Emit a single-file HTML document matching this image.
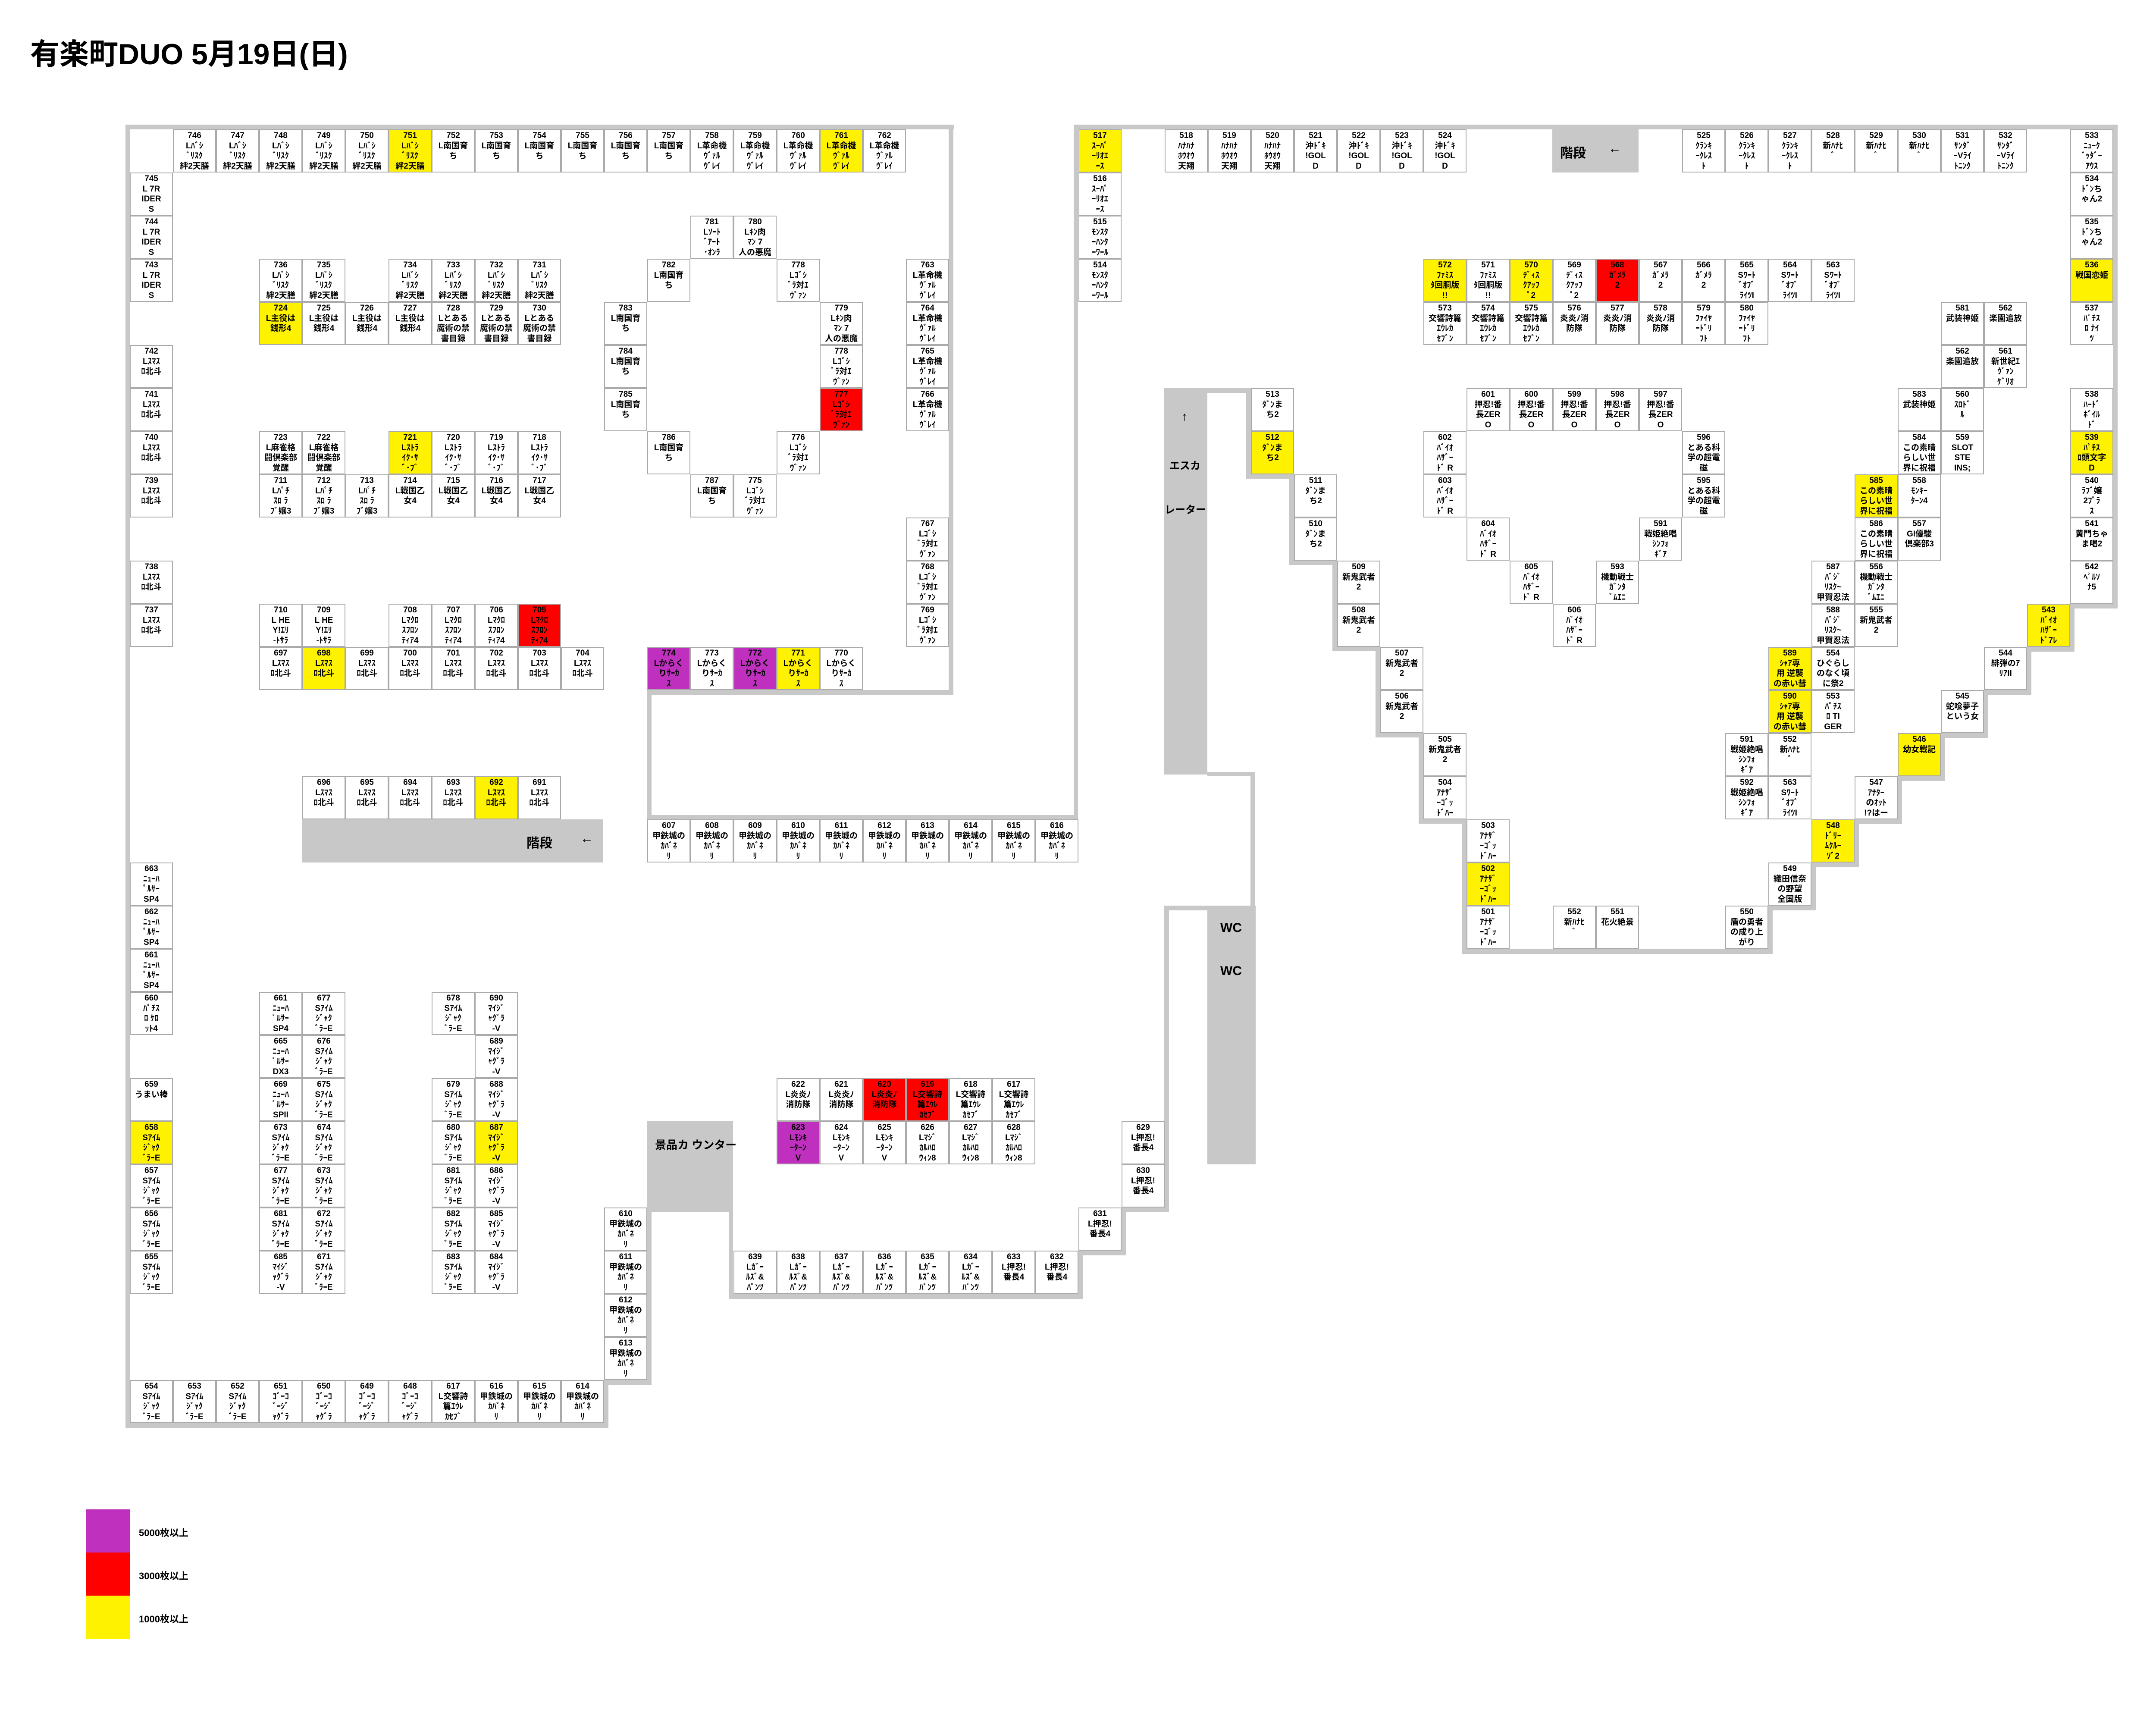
<!DOCTYPE html>
<html><head><meta charset="utf-8">
<style>
html,body{margin:0;padding:0;background:#fff;}
#m{position:relative;width:5300px;height:4000px;overflow:hidden;background:#fff;}
.c{position:absolute;width:100px;height:100px;box-sizing:border-box;border:2px solid #aaa;background:#fff;
font:bold 19px/23.5px "Liberation Sans","Noto Sans CJK JP",sans-serif;text-align:center;padding-top:1px;overflow:hidden;color:#000;white-space:nowrap;}
.y{background:#fff200;}
.r{background:#ff0000;}
.p{background:#bf30bf;}
.w{position:absolute;background:#c8c8c8;}
.g{position:absolute;background:#c8c8c8;font:bold 30px "Liberation Sans","Noto Sans CJK JP",sans-serif;color:#000;white-space:nowrap;}
.t{position:absolute;font:bold 22px "Liberation Sans","Noto Sans CJK JP",sans-serif;color:#000;}
</style></head><body><div id="m">
<div style="position:absolute;left:70px;top:70px;font:bold 68px 'Liberation Sans','Noto Sans CJK JP',sans-serif;white-space:nowrap;">有楽町DUO 5月19日(日)</div>

<!-- walls -->
<b class="w" style="left:291px;top:289px;width:1921px;height:11px"></b>
<b class="w" style="left:291px;top:289px;width:10px;height:3023px"></b>
<b class="w" style="left:2200px;top:289px;width:11px;height:1323px"></b>
<b class="w" style="left:1500px;top:1600px;width:711px;height:11px"></b>
<b class="w" style="left:1500px;top:1600px;width:11px;height:300px"></b>
<b class="w" style="left:1500px;top:1890px;width:1000px;height:10px"></b>
<b class="w" style="left:2490px;top:289px;width:10px;height:1611px"></b>
<b class="w" style="left:2490px;top:289px;width:2421px;height:11px"></b>
<b class="w" style="left:4900px;top:289px;width:11px;height:1122px"></b>
<b class="w" style="left:301px;top:3300px;width:1110px;height:12px"></b>
<b class="w" style="left:1400px;top:3200px;width:11px;height:112px"></b>
<b class="w" style="left:1400px;top:3200px;width:111px;height:11px"></b>
<b class="w" style="left:1500px;top:2811px;width:11px;height:400px"></b>
<b class="w" style="left:1690px;top:2811px;width:10px;height:201px"></b>
<b class="w" style="left:1690px;top:3000px;width:821px;height:12px"></b>
<b class="w" style="left:2500px;top:2900px;width:11px;height:112px"></b>
<b class="w" style="left:2500px;top:2900px;width:111px;height:11px"></b>
<b class="w" style="left:2600px;top:2800px;width:11px;height:111px"></b>
<b class="w" style="left:2600px;top:2800px;width:111px;height:11px"></b>
<b class="w" style="left:2700px;top:2100px;width:11px;height:711px"></b>
<b class="w" style="left:2700px;top:2100px;width:100px;height:11px"></b>
<b class="w" style="left:2800px;top:1790px;width:111px;height:10px"></b>
<b class="w" style="left:2900px;top:1790px;width:11px;height:320px"></b>
<b class="w" style="left:2700px;top:900px;width:200px;height:11px"></b>
<b class="w" style="left:2890px;top:900px;width:11px;height:210px"></b>
<b class="w" style="left:2890px;top:1100px;width:111px;height:10px"></b>
<b class="w" style="left:2990px;top:1100px;width:11px;height:210px"></b>
<b class="w" style="left:2990px;top:1300px;width:111px;height:10px"></b>
<b class="w" style="left:3090px;top:1300px;width:11px;height:210px"></b>
<b class="w" style="left:3090px;top:1500px;width:111px;height:10px"></b>
<b class="w" style="left:3190px;top:1500px;width:11px;height:210px"></b>
<b class="w" style="left:3190px;top:1700px;width:111px;height:10px"></b>
<b class="w" style="left:3290px;top:1700px;width:11px;height:210px"></b>
<b class="w" style="left:3290px;top:1900px;width:111px;height:10px"></b>
<b class="w" style="left:3390px;top:1900px;width:11px;height:312px"></b>
<b class="w" style="left:3390px;top:2200px;width:721px;height:12px"></b>
<b class="w" style="left:4100px;top:2100px;width:11px;height:112px"></b>
<b class="w" style="left:4100px;top:2100px;width:111px;height:11px"></b>
<b class="w" style="left:4200px;top:2000px;width:11px;height:111px"></b>
<b class="w" style="left:4200px;top:2000px;width:111px;height:11px"></b>
<b class="w" style="left:4300px;top:1900px;width:11px;height:111px"></b>
<b class="w" style="left:4300px;top:1900px;width:111px;height:11px"></b>
<b class="w" style="left:4400px;top:1800px;width:11px;height:111px"></b>
<b class="w" style="left:4400px;top:1800px;width:111px;height:11px"></b>
<b class="w" style="left:4500px;top:1700px;width:11px;height:111px"></b>
<b class="w" style="left:4500px;top:1700px;width:111px;height:11px"></b>
<b class="w" style="left:4600px;top:1600px;width:11px;height:111px"></b>
<b class="w" style="left:4600px;top:1600px;width:111px;height:11px"></b>
<b class="w" style="left:4700px;top:1500px;width:11px;height:111px"></b>
<b class="w" style="left:4700px;top:1500px;width:111px;height:11px"></b>
<b class="w" style="left:4800px;top:1400px;width:11px;height:111px"></b>
<b class="w" style="left:4800px;top:1400px;width:111px;height:11px"></b>

<!-- grey blocks -->
<div class="g" style="left:701px;top:1900px;width:698px;height:100px"><span style="position:absolute;left:520px;top:30px">階段</span><span style="position:absolute;left:645px;top:28px">←</span></div>
<div class="g" style="left:3600px;top:300px;width:200px;height:100px"><span style="position:absolute;left:18px;top:30px">階段</span><span style="position:absolute;left:130px;top:28px">←</span></div>
<div class="g" style="left:2700px;top:900px;width:100px;height:896px;font-size:24px"><span style="position:absolute;left:40px;top:50px;font-size:28px">↑</span><span style="position:absolute;left:12px;top:160px">エスカ</span><span style="position:absolute;left:1px;top:262px">レーター</span></div>
<div class="g" style="left:2800px;top:2100px;width:112px;height:600px"><span style="position:absolute;left:30px;top:35px">WC</span><span style="position:absolute;left:30px;top:135px">WC</span></div>
<div class="g" style="left:1501px;top:2600px;width:199px;height:211px;font-size:26px"><span style="position:absolute;left:18px;top:35px">景品カ ウンター</span></div>

<!-- legend -->
<b class="w" style="left:200px;top:3500px;width:101px;height:100px;background:#bf30bf"></b>
<b class="w" style="left:200px;top:3600px;width:101px;height:100px;background:#ff0000"></b>
<b class="w" style="left:200px;top:3700px;width:101px;height:101px;background:#fff200"></b>
<span class="t" style="left:322px;top:3537px">5000枚以上</span>
<span class="t" style="left:322px;top:3637px">3000枚以上</span>
<span class="t" style="left:322px;top:3737px">1000枚以上</span>

<!-- left section row0 -->
<div class="c" style="left:401px;top:300px">746<br>Lﾊﾞｼ<br>ﾞﾘｽｸ<br>絆2天膳</div>
<div class="c" style="left:501px;top:300px">747<br>Lﾊﾞｼ<br>ﾞﾘｽｸ<br>絆2天膳</div>
<div class="c" style="left:601px;top:300px">748<br>Lﾊﾞｼ<br>ﾞﾘｽｸ<br>絆2天膳</div>
<div class="c" style="left:701px;top:300px">749<br>Lﾊﾞｼ<br>ﾞﾘｽｸ<br>絆2天膳</div>
<div class="c" style="left:801px;top:300px">750<br>Lﾊﾞｼ<br>ﾞﾘｽｸ<br>絆2天膳</div>
<div class="c y" style="left:901px;top:300px">751<br>Lﾊﾞｼ<br>ﾞﾘｽｸ<br>絆2天膳</div>
<div class="c" style="left:1001px;top:300px">752<br>L南国育<br>ち</div>
<div class="c" style="left:1101px;top:300px">753<br>L南国育<br>ち</div>
<div class="c" style="left:1201px;top:300px">754<br>L南国育<br>ち</div>
<div class="c" style="left:1301px;top:300px">755<br>L南国育<br>ち</div>
<div class="c" style="left:1401px;top:300px">756<br>L南国育<br>ち</div>
<div class="c" style="left:1501px;top:300px">757<br>L南国育<br>ち</div>
<div class="c" style="left:1601px;top:300px">758<br>L革命機<br>ｳﾞｧﾙ<br>ｳﾞﾚｲ</div>
<div class="c" style="left:1701px;top:300px">759<br>L革命機<br>ｳﾞｧﾙ<br>ｳﾞﾚｲ</div>
<div class="c" style="left:1801px;top:300px">760<br>L革命機<br>ｳﾞｧﾙ<br>ｳﾞﾚｲ</div>
<div class="c y" style="left:1901px;top:300px">761<br>L革命機<br>ｳﾞｧﾙ<br>ｳﾞﾚｲ</div>
<div class="c" style="left:2001px;top:300px">762<br>L革命機<br>ｳﾞｧﾙ<br>ｳﾞﾚｲ</div>

<div class="c" style="left:301px;top:400px">745<br>L 7R<br>IDER<br>S</div>
<div class="c" style="left:301px;top:500px">744<br>L 7R<br>IDER<br>S</div>
<div class="c" style="left:301px;top:600px">743<br>L 7R<br>IDER<br>S</div>
<div class="c" style="left:301px;top:800px">742<br>Lｽﾏｽ<br>ﾛ北斗</div>
<div class="c" style="left:301px;top:900px">741<br>Lｽﾏｽ<br>ﾛ北斗</div>
<div class="c" style="left:301px;top:1000px">740<br>Lｽﾏｽ<br>ﾛ北斗</div>
<div class="c" style="left:301px;top:1100px">739<br>Lｽﾏｽ<br>ﾛ北斗</div>
<div class="c" style="left:301px;top:1300px">738<br>Lｽﾏｽ<br>ﾛ北斗</div>
<div class="c" style="left:301px;top:1400px">737<br>Lｽﾏｽ<br>ﾛ北斗</div>

<div class="c" style="left:601px;top:600px">736<br>Lﾊﾞｼ<br>ﾞﾘｽｸ<br>絆2天膳</div>
<div class="c" style="left:701px;top:600px">735<br>Lﾊﾞｼ<br>ﾞﾘｽｸ<br>絆2天膳</div>
<div class="c" style="left:901px;top:600px">734<br>Lﾊﾞｼ<br>ﾞﾘｽｸ<br>絆2天膳</div>
<div class="c" style="left:1001px;top:600px">733<br>Lﾊﾞｼ<br>ﾞﾘｽｸ<br>絆2天膳</div>
<div class="c" style="left:1101px;top:600px">732<br>Lﾊﾞｼ<br>ﾞﾘｽｸ<br>絆2天膳</div>
<div class="c" style="left:1201px;top:600px">731<br>Lﾊﾞｼ<br>ﾞﾘｽｸ<br>絆2天膳</div>
<div class="c y" style="left:601px;top:700px">724<br>L主役は<br>銭形4</div>
<div class="c" style="left:701px;top:700px">725<br>L主役は<br>銭形4</div>
<div class="c" style="left:801px;top:700px">726<br>L主役は<br>銭形4</div>
<div class="c" style="left:901px;top:700px">727<br>L主役は<br>銭形4</div>
<div class="c" style="left:1001px;top:700px">728<br>Lとある<br>魔術の禁<br>書目録</div>
<div class="c" style="left:1101px;top:700px">729<br>Lとある<br>魔術の禁<br>書目録</div>
<div class="c" style="left:1201px;top:700px">730<br>Lとある<br>魔術の禁<br>書目録</div>

<div class="c" style="left:601px;top:1000px">723<br>L麻雀格<br>闘倶楽部<br>覚醒</div>
<div class="c" style="left:701px;top:1000px">722<br>L麻雀格<br>闘倶楽部<br>覚醒</div>
<div class="c y" style="left:901px;top:1000px">721<br>Lｽﾄﾗ<br>ｲｸ･ｻ<br>ﾞ･ﾌﾞ</div>
<div class="c" style="left:1001px;top:1000px">720<br>Lｽﾄﾗ<br>ｲｸ･ｻ<br>ﾞ･ﾌﾞ</div>
<div class="c" style="left:1101px;top:1000px">719<br>Lｽﾄﾗ<br>ｲｸ･ｻ<br>ﾞ･ﾌﾞ</div>
<div class="c" style="left:1201px;top:1000px">718<br>Lｽﾄﾗ<br>ｲｸ･ｻ<br>ﾞ･ﾌﾞ</div>
<div class="c" style="left:601px;top:1100px">711<br>Lﾊﾟﾁ<br>ｽﾛ ﾗ<br>ﾌﾞ嬢3</div>
<div class="c" style="left:701px;top:1100px">712<br>Lﾊﾟﾁ<br>ｽﾛ ﾗ<br>ﾌﾞ嬢3</div>
<div class="c" style="left:801px;top:1100px">713<br>Lﾊﾟﾁ<br>ｽﾛ ﾗ<br>ﾌﾞ嬢3</div>
<div class="c" style="left:901px;top:1100px">714<br>L戦国乙<br>女4</div>
<div class="c" style="left:1001px;top:1100px">715<br>L戦国乙<br>女4</div>
<div class="c" style="left:1101px;top:1100px">716<br>L戦国乙<br>女4</div>
<div class="c" style="left:1201px;top:1100px">717<br>L戦国乙<br>女4</div>

<div class="c" style="left:601px;top:1400px">710<br>L HE<br>Y!ｴﾘ<br>-ﾄｻﾗ</div>
<div class="c" style="left:701px;top:1400px">709<br>L HE<br>Y!ｴﾘ<br>-ﾄｻﾗ</div>
<div class="c" style="left:901px;top:1400px">708<br>Lﾏｸﾛ<br>ｽﾌﾛﾝ<br>ﾃｨｱ4</div>
<div class="c" style="left:1001px;top:1400px">707<br>Lﾏｸﾛ<br>ｽﾌﾛﾝ<br>ﾃｨｱ4</div>
<div class="c" style="left:1101px;top:1400px">706<br>Lﾏｸﾛ<br>ｽﾌﾛﾝ<br>ﾃｨｱ4</div>
<div class="c r" style="left:1201px;top:1400px">705<br>Lﾏｸﾛ<br>ｽﾌﾛﾝ<br>ﾃｨｱ4</div>
<div class="c" style="left:601px;top:1500px">697<br>Lｽﾏｽ<br>ﾛ北斗</div>
<div class="c y" style="left:701px;top:1500px">698<br>Lｽﾏｽ<br>ﾛ北斗</div>
<div class="c" style="left:801px;top:1500px">699<br>Lｽﾏｽ<br>ﾛ北斗</div>
<div class="c" style="left:901px;top:1500px">700<br>Lｽﾏｽ<br>ﾛ北斗</div>
<div class="c" style="left:1001px;top:1500px">701<br>Lｽﾏｽ<br>ﾛ北斗</div>
<div class="c" style="left:1101px;top:1500px">702<br>Lｽﾏｽ<br>ﾛ北斗</div>
<div class="c" style="left:1201px;top:1500px">703<br>Lｽﾏｽ<br>ﾛ北斗</div>
<div class="c" style="left:1301px;top:1500px">704<br>Lｽﾏｽ<br>ﾛ北斗</div>

<div class="c" style="left:701px;top:1800px">696<br>Lｽﾏｽ<br>ﾛ北斗</div>
<div class="c" style="left:801px;top:1800px">695<br>Lｽﾏｽ<br>ﾛ北斗</div>
<div class="c" style="left:901px;top:1800px">694<br>Lｽﾏｽ<br>ﾛ北斗</div>
<div class="c" style="left:1001px;top:1800px">693<br>Lｽﾏｽ<br>ﾛ北斗</div>
<div class="c y" style="left:1101px;top:1800px">692<br>Lｽﾏｽ<br>ﾛ北斗</div>
<div class="c" style="left:1201px;top:1800px">691<br>Lｽﾏｽ<br>ﾛ北斗</div>

<!-- middle upper -->
<div class="c" style="left:1601px;top:500px">781<br>Lｿｰﾄ<br>ﾞｱｰﾄ<br>･ｵﾝﾗ</div>
<div class="c" style="left:1701px;top:500px">780<br>Lｷﾝ肉<br>ﾏﾝ 7<br>人の悪魔</div>
<div class="c" style="left:1501px;top:600px">782<br>L南国育<br>ち</div>
<div class="c" style="left:1801px;top:600px">778<br>Lｺﾞｼ<br>ﾞﾗ対ｴ<br>ｳﾞｧﾝ</div>
<div class="c" style="left:1401px;top:700px">783<br>L南国育<br>ち</div>
<div class="c" style="left:1901px;top:700px">779<br>Lｷﾝ肉<br>ﾏﾝ 7<br>人の悪魔</div>
<div class="c" style="left:1401px;top:800px">784<br>L南国育<br>ち</div>
<div class="c" style="left:1901px;top:800px">778<br>Lｺﾞｼ<br>ﾞﾗ対ｴ<br>ｳﾞｧﾝ</div>
<div class="c" style="left:1401px;top:900px">785<br>L南国育<br>ち</div>
<div class="c r" style="left:1901px;top:900px">777<br>Lｺﾞｼ<br>ﾞﾗ対ｴ<br>ｳﾞｧﾝ</div>
<div class="c" style="left:1501px;top:1000px">786<br>L南国育<br>ち</div>
<div class="c" style="left:1801px;top:1000px">776<br>Lｺﾞｼ<br>ﾞﾗ対ｴ<br>ｳﾞｧﾝ</div>
<div class="c" style="left:1601px;top:1100px">787<br>L南国育<br>ち</div>
<div class="c" style="left:1701px;top:1100px">775<br>Lｺﾞｼ<br>ﾞﾗ対ｴ<br>ｳﾞｧﾝ</div>
<div class="c" style="left:2101px;top:600px">763<br>L革命機<br>ｳﾞｧﾙ<br>ｳﾞﾚｲ</div>
<div class="c" style="left:2101px;top:700px">764<br>L革命機<br>ｳﾞｧﾙ<br>ｳﾞﾚｲ</div>
<div class="c" style="left:2101px;top:800px">765<br>L革命機<br>ｳﾞｧﾙ<br>ｳﾞﾚｲ</div>
<div class="c" style="left:2101px;top:900px">766<br>L革命機<br>ｳﾞｧﾙ<br>ｳﾞﾚｲ</div>
<div class="c" style="left:2101px;top:1200px">767<br>Lｺﾞｼ<br>ﾞﾗ対ｴ<br>ｳﾞｧﾝ</div>
<div class="c" style="left:2101px;top:1300px">768<br>Lｺﾞｼ<br>ﾞﾗ対ｴ<br>ｳﾞｧﾝ</div>
<div class="c" style="left:2101px;top:1400px">769<br>Lｺﾞｼ<br>ﾞﾗ対ｴ<br>ｳﾞｧﾝ</div>
<div class="c p" style="left:1501px;top:1500px">774<br>Lからく<br>りｻｰｶ<br>ｽ</div>
<div class="c" style="left:1601px;top:1500px">773<br>Lからく<br>りｻｰｶ<br>ｽ</div>
<div class="c p" style="left:1701px;top:1500px">772<br>Lからく<br>りｻｰｶ<br>ｽ</div>
<div class="c y" style="left:1801px;top:1500px">771<br>Lからく<br>りｻｰｶ<br>ｽ</div>
<div class="c" style="left:1901px;top:1500px">770<br>Lからく<br>りｻｰｶ<br>ｽ</div>

<!-- 607-616 -->
<div class="c" style="left:1501px;top:1900px">607<br>甲鉄城の<br>ｶﾊﾞﾈ<br>ﾘ</div>
<div class="c" style="left:1601px;top:1900px">608<br>甲鉄城の<br>ｶﾊﾞﾈ<br>ﾘ</div>
<div class="c" style="left:1701px;top:1900px">609<br>甲鉄城の<br>ｶﾊﾞﾈ<br>ﾘ</div>
<div class="c" style="left:1801px;top:1900px">610<br>甲鉄城の<br>ｶﾊﾞﾈ<br>ﾘ</div>
<div class="c" style="left:1901px;top:1900px">611<br>甲鉄城の<br>ｶﾊﾞﾈ<br>ﾘ</div>
<div class="c" style="left:2001px;top:1900px">612<br>甲鉄城の<br>ｶﾊﾞﾈ<br>ﾘ</div>
<div class="c" style="left:2101px;top:1900px">613<br>甲鉄城の<br>ｶﾊﾞﾈ<br>ﾘ</div>
<div class="c" style="left:2201px;top:1900px">614<br>甲鉄城の<br>ｶﾊﾞﾈ<br>ﾘ</div>
<div class="c" style="left:2301px;top:1900px">615<br>甲鉄城の<br>ｶﾊﾞﾈ<br>ﾘ</div>
<div class="c" style="left:2401px;top:1900px">616<br>甲鉄城の<br>ｶﾊﾞﾈ<br>ﾘ</div>

<!-- 617-628 -->
<div class="c" style="left:1801px;top:2500px">622<br>L炎炎ﾉ<br>消防隊</div>
<div class="c" style="left:1901px;top:2500px">621<br>L炎炎ﾉ<br>消防隊</div>
<div class="c r" style="left:2001px;top:2500px">620<br>L炎炎ﾉ<br>消防隊</div>
<div class="c r" style="left:2101px;top:2500px">619<br>L交響詩<br>篇ｴｳﾚ<br>ｶｾﾌﾞ</div>
<div class="c" style="left:2201px;top:2500px">618<br>L交響詩<br>篇ｴｳﾚ<br>ｶｾﾌﾞ</div>
<div class="c" style="left:2301px;top:2500px">617<br>L交響詩<br>篇ｴｳﾚ<br>ｶｾﾌﾞ</div>
<div class="c p" style="left:1801px;top:2600px">623<br>Lﾓﾝｷ<br>ｰﾀｰﾝ<br>V</div>
<div class="c" style="left:1901px;top:2600px">624<br>Lﾓﾝｷ<br>ｰﾀｰﾝ<br>V</div>
<div class="c" style="left:2001px;top:2600px">625<br>Lﾓﾝｷ<br>ｰﾀｰﾝ<br>V</div>
<div class="c" style="left:2101px;top:2600px">626<br>Lﾏｼﾞ<br>ｶﾙﾊﾛ<br>ｳｨﾝ8</div>
<div class="c" style="left:2201px;top:2600px">627<br>Lﾏｼﾞ<br>ｶﾙﾊﾛ<br>ｳｨﾝ8</div>
<div class="c" style="left:2301px;top:2600px">628<br>Lﾏｼﾞ<br>ｶﾙﾊﾛ<br>ｳｨﾝ8</div>
<div class="c" style="left:2601px;top:2600px">629<br>L押忍!<br>番長4</div>
<div class="c" style="left:2601px;top:2700px">630<br>L押忍!<br>番長4</div>
<div class="c" style="left:2501px;top:2800px">631<br>L押忍!<br>番長4</div>
<div class="c" style="left:2401px;top:2900px">632<br>L押忍!<br>番長4</div>
<div class="c" style="left:2301px;top:2900px">633<br>L押忍!<br>番長4</div>
<div class="c" style="left:2201px;top:2900px">634<br>Lｶﾞｰ<br>ﾙｽﾞ&amp;<br>ﾊﾟﾝﾂ</div>
<div class="c" style="left:2101px;top:2900px">635<br>Lｶﾞｰ<br>ﾙｽﾞ&amp;<br>ﾊﾟﾝﾂ</div>
<div class="c" style="left:2001px;top:2900px">636<br>Lｶﾞｰ<br>ﾙｽﾞ&amp;<br>ﾊﾟﾝﾂ</div>
<div class="c" style="left:1901px;top:2900px">637<br>Lｶﾞｰ<br>ﾙｽﾞ&amp;<br>ﾊﾟﾝﾂ</div>
<div class="c" style="left:1801px;top:2900px">638<br>Lｶﾞｰ<br>ﾙｽﾞ&amp;<br>ﾊﾟﾝﾂ</div>
<div class="c" style="left:1701px;top:2900px">639<br>Lｶﾞｰ<br>ﾙｽﾞ&amp;<br>ﾊﾟﾝﾂ</div>

<!-- lower left -->
<div class="c" style="left:301px;top:2000px">663<br>ﾆｭｰﾊ<br>ﾟﾙｻｰ<br>SP4</div>
<div class="c" style="left:301px;top:2100px">662<br>ﾆｭｰﾊ<br>ﾟﾙｻｰ<br>SP4</div>
<div class="c" style="left:301px;top:2200px">661<br>ﾆｭｰﾊ<br>ﾟﾙｻｰ<br>SP4</div>
<div class="c" style="left:301px;top:2300px">660<br>ﾊﾟﾁｽ<br>ﾛ ｹﾛ<br>ｯﾄ4</div>
<div class="c" style="left:301px;top:2500px">659<br>うまい棒</div>
<div class="c y" style="left:301px;top:2600px">658<br>Sｱｲﾑ<br>ｼﾞｬｸ<br>ﾞﾗｰE</div>
<div class="c" style="left:301px;top:2700px">657<br>Sｱｲﾑ<br>ｼﾞｬｸ<br>ﾞﾗｰE</div>
<div class="c" style="left:301px;top:2800px">656<br>Sｱｲﾑ<br>ｼﾞｬｸ<br>ﾞﾗｰE</div>
<div class="c" style="left:301px;top:2900px">655<br>Sｱｲﾑ<br>ｼﾞｬｸ<br>ﾞﾗｰE</div>

<div class="c" style="left:601px;top:2300px">661<br>ﾆｭｰﾊ<br>ﾟﾙｻｰ<br>SP4</div>
<div class="c" style="left:701px;top:2300px">677<br>Sｱｲﾑ<br>ｼﾞｬｸ<br>ﾞﾗｰE</div>
<div class="c" style="left:601px;top:2400px">665<br>ﾆｭｰﾊ<br>ﾟﾙｻｰ<br>DX3</div>
<div class="c" style="left:701px;top:2400px">676<br>Sｱｲﾑ<br>ｼﾞｬｸ<br>ﾞﾗｰE</div>
<div class="c" style="left:601px;top:2500px">669<br>ﾆｭｰﾊ<br>ﾟﾙｻｰ<br>SPII</div>
<div class="c" style="left:701px;top:2500px">675<br>Sｱｲﾑ<br>ｼﾞｬｸ<br>ﾞﾗｰE</div>
<div class="c" style="left:601px;top:2600px">673<br>Sｱｲﾑ<br>ｼﾞｬｸ<br>ﾞﾗｰE</div>
<div class="c" style="left:701px;top:2600px">674<br>Sｱｲﾑ<br>ｼﾞｬｸ<br>ﾞﾗｰE</div>
<div class="c" style="left:601px;top:2700px">677<br>Sｱｲﾑ<br>ｼﾞｬｸ<br>ﾞﾗｰE</div>
<div class="c" style="left:701px;top:2700px">673<br>Sｱｲﾑ<br>ｼﾞｬｸ<br>ﾞﾗｰE</div>
<div class="c" style="left:601px;top:2800px">681<br>Sｱｲﾑ<br>ｼﾞｬｸ<br>ﾞﾗｰE</div>
<div class="c" style="left:701px;top:2800px">672<br>Sｱｲﾑ<br>ｼﾞｬｸ<br>ﾞﾗｰE</div>
<div class="c" style="left:601px;top:2900px">685<br>ﾏｲｼﾞ<br>ｬｸﾞﾗ<br>-V</div>
<div class="c" style="left:701px;top:2900px">671<br>Sｱｲﾑ<br>ｼﾞｬｸ<br>ﾞﾗｰE</div>

<div class="c" style="left:1001px;top:2300px">678<br>Sｱｲﾑ<br>ｼﾞｬｸ<br>ﾞﾗｰE</div>
<div class="c" style="left:1101px;top:2300px">690<br>ﾏｲｼﾞ<br>ｬｸﾞﾗ<br>-V</div>
<div class="c" style="left:1101px;top:2400px">689<br>ﾏｲｼﾞ<br>ｬｸﾞﾗ<br>-V</div>
<div class="c" style="left:1001px;top:2500px">679<br>Sｱｲﾑ<br>ｼﾞｬｸ<br>ﾞﾗｰE</div>
<div class="c" style="left:1101px;top:2500px">688<br>ﾏｲｼﾞ<br>ｬｸﾞﾗ<br>-V</div>
<div class="c" style="left:1001px;top:2600px">680<br>Sｱｲﾑ<br>ｼﾞｬｸ<br>ﾞﾗｰE</div>
<div class="c y" style="left:1101px;top:2600px">687<br>ﾏｲｼﾞ<br>ｬｸﾞﾗ<br>-V</div>
<div class="c" style="left:1001px;top:2700px">681<br>Sｱｲﾑ<br>ｼﾞｬｸ<br>ﾞﾗｰE</div>
<div class="c" style="left:1101px;top:2700px">686<br>ﾏｲｼﾞ<br>ｬｸﾞﾗ<br>-V</div>
<div class="c" style="left:1001px;top:2800px">682<br>Sｱｲﾑ<br>ｼﾞｬｸ<br>ﾞﾗｰE</div>
<div class="c" style="left:1101px;top:2800px">685<br>ﾏｲｼﾞ<br>ｬｸﾞﾗ<br>-V</div>
<div class="c" style="left:1001px;top:2900px">683<br>Sｱｲﾑ<br>ｼﾞｬｸ<br>ﾞﾗｰE</div>
<div class="c" style="left:1101px;top:2900px">684<br>ﾏｲｼﾞ<br>ｬｸﾞﾗ<br>-V</div>

<div class="c" style="left:1401px;top:2800px">610<br>甲鉄城の<br>ｶﾊﾞﾈ<br>ﾘ</div>
<div class="c" style="left:1401px;top:2900px">611<br>甲鉄城の<br>ｶﾊﾞﾈ<br>ﾘ</div>
<div class="c" style="left:1401px;top:3000px">612<br>甲鉄城の<br>ｶﾊﾞﾈ<br>ﾘ</div>
<div class="c" style="left:1401px;top:3100px">613<br>甲鉄城の<br>ｶﾊﾞﾈ<br>ﾘ</div>

<div class="c" style="left:301px;top:3200px">654<br>Sｱｲﾑ<br>ｼﾞｬｸ<br>ﾞﾗｰE</div>
<div class="c" style="left:401px;top:3200px">653<br>Sｱｲﾑ<br>ｼﾞｬｸ<br>ﾞﾗｰE</div>
<div class="c" style="left:501px;top:3200px">652<br>Sｱｲﾑ<br>ｼﾞｬｸ<br>ﾞﾗｰE</div>
<div class="c" style="left:601px;top:3200px">651<br>ｺﾞｰｺ<br>ﾞｰｼﾞ<br>ｬｸﾞﾗ</div>
<div class="c" style="left:701px;top:3200px">650<br>ｺﾞｰｺ<br>ﾞｰｼﾞ<br>ｬｸﾞﾗ</div>
<div class="c" style="left:801px;top:3200px">649<br>ｺﾞｰｺ<br>ﾞｰｼﾞ<br>ｬｸﾞﾗ</div>
<div class="c" style="left:901px;top:3200px">648<br>ｺﾞｰｺ<br>ﾞｰｼﾞ<br>ｬｸﾞﾗ</div>
<div class="c" style="left:1001px;top:3200px">617<br>L交響詩<br>篇ｴｳﾚ<br>ｶｾﾌﾞ</div>
<div class="c" style="left:1101px;top:3200px">616<br>甲鉄城の<br>ｶﾊﾞﾈ<br>ﾘ</div>
<div class="c" style="left:1201px;top:3200px">615<br>甲鉄城の<br>ｶﾊﾞﾈ<br>ﾘ</div>
<div class="c" style="left:1301px;top:3200px">614<br>甲鉄城の<br>ｶﾊﾞﾈ<br>ﾘ</div>

<!-- right section -->
<div class="c y" style="left:2501px;top:300px">517<br>ｽｰﾊﾟ<br>ｰﾘｵｴ<br>ｰｽ</div>
<div class="c" style="left:2501px;top:400px">516<br>ｽｰﾊﾟ<br>ｰﾘｵｴ<br>ｰｽ</div>
<div class="c" style="left:2501px;top:500px">515<br>ﾓﾝｽﾀ<br>ｰﾊﾝﾀ<br>ｰﾜｰﾙ</div>
<div class="c" style="left:2501px;top:600px">514<br>ﾓﾝｽﾀ<br>ｰﾊﾝﾀ<br>ｰﾜｰﾙ</div>
<div class="c" style="left:2701px;top:300px">518<br>ﾊﾅﾊﾅ<br>ﾎｳｵｳ<br>天翔</div>
<div class="c" style="left:2801px;top:300px">519<br>ﾊﾅﾊﾅ<br>ﾎｳｵｳ<br>天翔</div>
<div class="c" style="left:2901px;top:300px">520<br>ﾊﾅﾊﾅ<br>ﾎｳｵｳ<br>天翔</div>
<div class="c" style="left:3001px;top:300px">521<br>沖ﾄﾞｷ<br>!GOL<br>D</div>
<div class="c" style="left:3101px;top:300px">522<br>沖ﾄﾞｷ<br>!GOL<br>D</div>
<div class="c" style="left:3201px;top:300px">523<br>沖ﾄﾞｷ<br>!GOL<br>D</div>
<div class="c" style="left:3301px;top:300px">524<br>沖ﾄﾞｷ<br>!GOL<br>D</div>
<div class="c" style="left:3901px;top:300px">525<br>ｸﾗﾝｷ<br>ｰｸﾚｽ<br>ﾄ</div>
<div class="c" style="left:4001px;top:300px">526<br>ｸﾗﾝｷ<br>ｰｸﾚｽ<br>ﾄ</div>
<div class="c" style="left:4101px;top:300px">527<br>ｸﾗﾝｷ<br>ｰｸﾚｽ<br>ﾄ</div>
<div class="c" style="left:4201px;top:300px">528<br>新ﾊﾅﾋ<br>ﾞ</div>
<div class="c" style="left:4301px;top:300px">529<br>新ﾊﾅﾋ<br>ﾞ</div>
<div class="c" style="left:4401px;top:300px">530<br>新ﾊﾅﾋ<br>ﾞ</div>
<div class="c" style="left:4501px;top:300px">531<br>ｻﾝﾀﾞ<br>ｰVﾗｲ<br>ﾄﾆﾝｸ</div>
<div class="c" style="left:4601px;top:300px">532<br>ｻﾝﾀﾞ<br>ｰVﾗｲ<br>ﾄﾆﾝｸ</div>
<div class="c" style="left:4801px;top:300px">533<br>ﾆｭｰｸ<br>ﾞｯﾀﾞｰ<br>ｱｳｽ</div>
<div class="c" style="left:4801px;top:400px">534<br>ﾄﾞﾝち<br>ゃん2</div>
<div class="c" style="left:4801px;top:500px">535<br>ﾄﾞﾝち<br>ゃん2</div>
<div class="c y" style="left:4801px;top:600px">536<br>戦国恋姫</div>
<div class="c" style="left:4801px;top:700px">537<br>ﾊﾟﾁｽ<br>ﾛ ﾅｲ<br>ﾂ</div>
<div class="c" style="left:4801px;top:900px">538<br>ﾊｰﾄﾞ<br>ﾎﾞｲﾙ<br>ﾄﾞ</div>
<div class="c y" style="left:4801px;top:1000px">539<br>ﾊﾟﾁｽ<br>ﾛ頭文字<br>D</div>
<div class="c" style="left:4801px;top:1100px">540<br>ﾗﾌﾞ嬢<br>2ﾌﾟﾗ<br>ｽ</div>
<div class="c" style="left:4801px;top:1200px">541<br>黄門ちゃ<br>ま喝2</div>
<div class="c" style="left:4801px;top:1300px">542<br>ﾍﾟﾙｿ<br>ﾅ5</div>
<div class="c y" style="left:4701px;top:1400px">543<br>ﾊﾞｲｵ<br>ﾊｻﾞｰ<br>ﾄﾞ7ﾚ</div>
<div class="c" style="left:4601px;top:1500px">544<br>緋弾のｱ<br>ﾘｱII</div>
<div class="c" style="left:4501px;top:1600px">545<br>蛇喰夢子<br>という女</div>
<div class="c y" style="left:4401px;top:1700px">546<br>幼女戦記</div>
<div class="c" style="left:4301px;top:1800px">547<br>ｱﾅﾀｰ<br>のｵｯﾄ<br>!?はー</div>
<div class="c y" style="left:4201px;top:1900px">548<br>ﾄﾞﾘｰ<br>ﾑｸﾙｰ<br>ｿﾞ2</div>
<div class="c" style="left:4101px;top:2000px">549<br>織田信奈<br>の野望<br>全国版</div>
<div class="c" style="left:4001px;top:2100px">550<br>盾の勇者<br>の成り上<br>がり</div>
<div class="c" style="left:3601px;top:2100px">552<br>新ﾊﾅﾋ<br>ﾞ</div>
<div class="c" style="left:3701px;top:2100px">551<br>花火絶景</div>

<div class="c y" style="left:3301px;top:600px">572<br>ﾌｧﾐｽ<br>ﾀ回胴版<br>!!</div>
<div class="c" style="left:3401px;top:600px">571<br>ﾌｧﾐｽ<br>ﾀ回胴版<br>!!</div>
<div class="c y" style="left:3501px;top:600px">570<br>ﾃﾞｨｽ<br>ｸｱｯﾌ<br>ﾟ2</div>
<div class="c" style="left:3601px;top:600px">569<br>ﾃﾞｨｽ<br>ｸｱｯﾌ<br>ﾟ2</div>
<div class="c r" style="left:3701px;top:600px">568<br>ｶﾞﾒﾗ<br>2</div>
<div class="c" style="left:3801px;top:600px">567<br>ｶﾞﾒﾗ<br>2</div>
<div class="c" style="left:3901px;top:600px">566<br>ｶﾞﾒﾗ<br>2</div>
<div class="c" style="left:4001px;top:600px">565<br>Sﾜｰﾄ<br>ﾞｵﾌﾞ<br>ﾗｲﾂI</div>
<div class="c" style="left:4101px;top:600px">564<br>Sﾜｰﾄ<br>ﾞｵﾌﾞ<br>ﾗｲﾂI</div>
<div class="c" style="left:4201px;top:600px">563<br>Sﾜｰﾄ<br>ﾞｵﾌﾞ<br>ﾗｲﾂI</div>
<div class="c" style="left:3301px;top:700px">573<br>交響詩篇<br>ｴｳﾚｶ<br>ｾﾌﾞﾝ</div>
<div class="c" style="left:3401px;top:700px">574<br>交響詩篇<br>ｴｳﾚｶ<br>ｾﾌﾞﾝ</div>
<div class="c" style="left:3501px;top:700px">575<br>交響詩篇<br>ｴｳﾚｶ<br>ｾﾌﾞﾝ</div>
<div class="c" style="left:3601px;top:700px">576<br>炎炎ﾉ消<br>防隊</div>
<div class="c" style="left:3701px;top:700px">577<br>炎炎ﾉ消<br>防隊</div>
<div class="c" style="left:3801px;top:700px">578<br>炎炎ﾉ消<br>防隊</div>
<div class="c" style="left:3901px;top:700px">579<br>ﾌｧｲﾔ<br>ｰﾄﾞﾘ<br>ﾌﾄ</div>
<div class="c" style="left:4001px;top:700px">580<br>ﾌｧｲﾔ<br>ｰﾄﾞﾘ<br>ﾌﾄ</div>
<div class="c" style="left:4501px;top:700px">581<br>武装神姫</div>
<div class="c" style="left:4601px;top:700px">562<br>楽園追放</div>
<div class="c" style="left:4501px;top:800px">562<br>楽園追放</div>
<div class="c" style="left:4601px;top:800px">561<br>新世紀ｴ<br>ｳﾞｧﾝ<br>ｹﾞﾘｵ</div>

<div class="c" style="left:3401px;top:900px">601<br>押忍!番<br>長ZER<br>O</div>
<div class="c" style="left:3501px;top:900px">600<br>押忍!番<br>長ZER<br>O</div>
<div class="c" style="left:3601px;top:900px">599<br>押忍!番<br>長ZER<br>O</div>
<div class="c" style="left:3701px;top:900px">598<br>押忍!番<br>長ZER<br>O</div>
<div class="c" style="left:3801px;top:900px">597<br>押忍!番<br>長ZER<br>O</div>
<div class="c" style="left:4401px;top:900px">583<br>武装神姫</div>
<div class="c" style="left:4501px;top:900px">560<br>ｽﾛﾄﾞ<br>ﾙ</div>
<div class="c" style="left:3301px;top:1000px">602<br>ﾊﾞｲｵ<br>ﾊｻﾞｰ<br>ﾄﾞ R</div>
<div class="c" style="left:3901px;top:1000px">596<br>とある科<br>学の超電<br>磁</div>
<div class="c" style="left:4401px;top:1000px">584<br>この素晴<br>らしい世<br>界に祝福</div>
<div class="c" style="left:4501px;top:1000px">559<br>SLOT<br>STE<br>INS;</div>
<div class="c" style="left:3301px;top:1100px">603<br>ﾊﾞｲｵ<br>ﾊｻﾞｰ<br>ﾄﾞ R</div>
<div class="c" style="left:3901px;top:1100px">595<br>とある科<br>学の超電<br>磁</div>
<div class="c y" style="left:4301px;top:1100px">585<br>この素晴<br>らしい世<br>界に祝福</div>
<div class="c" style="left:4401px;top:1100px">558<br>ﾓﾝｷｰ<br>ﾀｰﾝ4</div>
<div class="c" style="left:3401px;top:1200px">604<br>ﾊﾞｲｵ<br>ﾊｻﾞｰ<br>ﾄﾞ R</div>
<div class="c" style="left:3801px;top:1200px">591<br>戦姫絶唱<br>ｼﾝﾌｫ<br>ｷﾞｱ</div>
<div class="c" style="left:4301px;top:1200px">586<br>この素晴<br>らしい世<br>界に祝福</div>
<div class="c" style="left:4401px;top:1200px">557<br>GI優駿<br>倶楽部3</div>
<div class="c" style="left:3501px;top:1300px">605<br>ﾊﾞｲｵ<br>ﾊｻﾞｰ<br>ﾄﾞ R</div>
<div class="c" style="left:3701px;top:1300px">593<br>機動戦士<br>ｶﾞﾝﾀ<br>ﾞﾑｴﾆ</div>
<div class="c" style="left:4201px;top:1300px">587<br>ﾊﾞｼﾞ<br>ﾘｽｸ~<br>甲賀忍法</div>
<div class="c" style="left:4301px;top:1300px">556<br>機動戦士<br>ｶﾞﾝﾀ<br>ﾞﾑｴﾆ</div>
<div class="c" style="left:3601px;top:1400px">606<br>ﾊﾞｲｵ<br>ﾊｻﾞｰ<br>ﾄﾞ R</div>
<div class="c" style="left:4201px;top:1400px">588<br>ﾊﾞｼﾞ<br>ﾘｽｸ~<br>甲賀忍法</div>
<div class="c" style="left:4301px;top:1400px">555<br>新鬼武者<br>2</div>
<div class="c y" style="left:4101px;top:1500px">589<br>ｼｬｱ専<br>用 逆襲<br>の赤い彗</div>
<div class="c" style="left:4201px;top:1500px">554<br>ひぐらし<br>のなく頃<br>に祭2</div>
<div class="c y" style="left:4101px;top:1600px">590<br>ｼｬｱ専<br>用 逆襲<br>の赤い彗</div>
<div class="c" style="left:4201px;top:1600px">553<br>ﾊﾟﾁｽ<br>ﾛ TI<br>GER</div>
<div class="c" style="left:4001px;top:1700px">591<br>戦姫絶唱<br>ｼﾝﾌｫ<br>ｷﾞｱ</div>
<div class="c" style="left:4101px;top:1700px">552<br>新ﾊﾅﾋ<br>ﾞ</div>
<div class="c" style="left:4001px;top:1800px">592<br>戦姫絶唱<br>ｼﾝﾌｫ<br>ｷﾞｱ</div>
<div class="c" style="left:4101px;top:1800px">563<br>Sﾜｰﾄ<br>ﾞｵﾌﾞ<br>ﾗｲﾂI</div>

<div class="c" style="left:2901px;top:900px">513<br>ﾀﾞﾝま<br>ち2</div>
<div class="c y" style="left:2901px;top:1000px">512<br>ﾀﾞﾝま<br>ち2</div>
<div class="c" style="left:3001px;top:1100px">511<br>ﾀﾞﾝま<br>ち2</div>
<div class="c" style="left:3001px;top:1200px">510<br>ﾀﾞﾝま<br>ち2</div>
<div class="c" style="left:3101px;top:1300px">509<br>新鬼武者<br>2</div>
<div class="c" style="left:3101px;top:1400px">508<br>新鬼武者<br>2</div>
<div class="c" style="left:3201px;top:1500px">507<br>新鬼武者<br>2</div>
<div class="c" style="left:3201px;top:1600px">506<br>新鬼武者<br>2</div>
<div class="c" style="left:3301px;top:1700px">505<br>新鬼武者<br>2</div>
<div class="c" style="left:3301px;top:1800px">504<br>ｱﾅｻﾞ<br>ｰｺﾞｯ<br>ﾄﾞﾊｰ</div>
<div class="c" style="left:3401px;top:1900px">503<br>ｱﾅｻﾞ<br>ｰｺﾞｯ<br>ﾄﾞﾊｰ</div>
<div class="c y" style="left:3401px;top:2000px">502<br>ｱﾅｻﾞ<br>ｰｺﾞｯ<br>ﾄﾞﾊｰ</div>
<div class="c" style="left:3401px;top:2100px">501<br>ｱﾅｻﾞ<br>ｰｺﾞｯ<br>ﾄﾞﾊｰ</div>
</div></body></html>
